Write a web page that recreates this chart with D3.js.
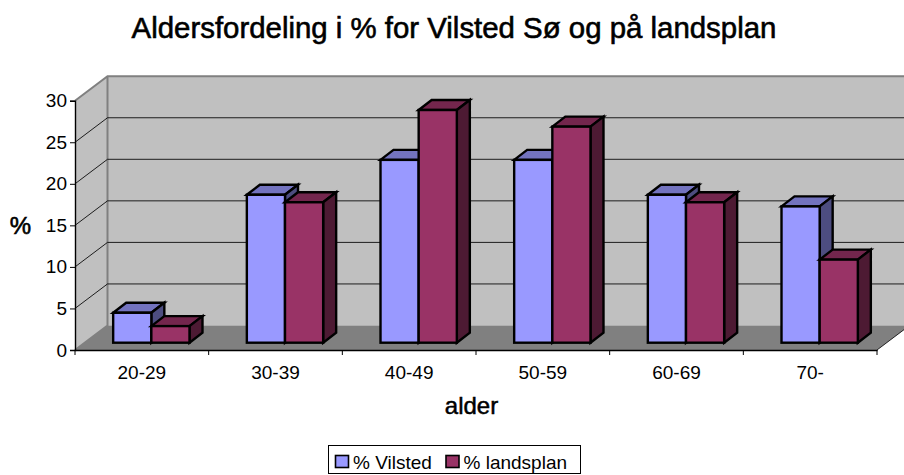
<!DOCTYPE html>
<html>
<head>
<meta charset="utf-8">
<script src="https://cdn.jsdelivr.net/npm/d3@7"></script>
<style>
html,body{margin:0;padding:0;background:#fff;overflow:hidden}
svg{display:block}
text{font-family:"Liberation Sans",Arial,sans-serif;fill:#000}
</style>
</head>
<body>
<div id="chart"></div>
<script>
const categories = ["20-29","30-39","40-49","50-59","60-69","70-"];
const vilsted = [3.6,17.8,22,22,17.8,16.4];
const landsplan = [2,16.9,28,26,16.9,10];
const yTicks = [0,5,10,15,20,25,30];
const seriesNames = ["% Vilsted","% landsplan"];
const faceColors = ["#9999ff","#993366"];
const topColors = ["#7373bf","#73264d"];
const sideColors = ["#4d4d80","#4d1a33"];

const width = 904, height = 475;
const svg = d3.select("#chart").append("svg").attr("width",width).attr("height",height);

// Front plane of the plot box
const x0 = 75, x1 = 877, y0 = 350, yTop = 100.7;
// Depth of the box and of the bars, and where the bars sit inside it
const boxDx = 32.5, boxDy = -24.5;
const barDx = 13, barDy = -10, inDx = 9.5, inDy = -7.3;

const x = d3.scaleBand().domain(categories).range([x0,x1]).paddingInner(0).paddingOuter(0);
const y = d3.scaleLinear().domain([0,30]).range([y0,yTop]);
const barW = x.bandwidth()*0.2855;

const poly = pts => pts.map(p=>p.join(",")).join(" ");

// Walls and floor
svg.append("polygon").attr("points",poly([[x0,y(0)],[x0,y(30)],[x0+boxDx,y(30)+boxDy],[x0+boxDx,y(0)+boxDy]])).attr("fill","#c0c0c0");
svg.append("rect").attr("x",x0+boxDx).attr("y",y(30)+boxDy).attr("width",x1-x0).attr("height",y(0)-y(30)).attr("fill","#c0c0c0");
svg.append("polygon").attr("points",poly([[x0,y(0)],[x1,y(0)],[x1+boxDx,y(0)+boxDy],[x0+boxDx,y(0)+boxDy]])).attr("fill","#808080");

// Wall outline
svg.append("path")
  .attr("d",`M${x0},${y(30)}L${x0+boxDx},${y(30)+boxDy}H${x1+boxDx}M${x0+boxDx},${y(30)+boxDy}V${y(0)+boxDy}L${x0},${y(0)}`)
  .attr("fill","none").attr("stroke","#808080").attr("stroke-width",2);

// Gridlines wrap from the side wall onto the back wall
svg.append("g").selectAll("path").data(yTicks.filter(t=>t>0&&t<30)).join("path")
  .attr("d",t=>`M${x0},${y(t)}L${x0+boxDx},${y(t)+boxDy}H${x1+boxDx}`)
  .attr("fill","none").attr("stroke","#000").attr("stroke-width",1).attr("stroke-opacity",.85);

// Floor edge on the right
svg.append("path").attr("d",`M${x1},${y(0)}L${x1+boxDx},${y(0)+boxDy}`).attr("stroke","#000").attr("stroke-opacity",.8).attr("fill","none");

// Bars: front face, top and side in three shades
const rows = categories.map((c,i)=>[vilsted[i],landsplan[i]]);
const gBars = svg.append("g").attr("stroke","#000").attr("stroke-width",2.4).attr("stroke-linejoin","miter");
categories.forEach((c,i)=>{
  rows[i].forEach((v,s)=>{
    const bx = x(c)+(x.bandwidth()-2*barW)/2+inDx+s*barW;
    const by = y(v)+inDy, bb = y(0)+inDy;
    const g = gBars.append("g");
    g.append("polygon").attr("points",poly([[bx,by],[bx+barDx,by+barDy],[bx+barW+barDx,by+barDy],[bx+barW,by]])).attr("fill",topColors[s]);
    g.append("polygon").attr("points",poly([[bx+barW,by],[bx+barW+barDx,by+barDy],[bx+barW+barDx,bb+barDy],[bx+barW,bb]])).attr("fill",sideColors[s]);
    g.append("rect").attr("x",bx).attr("y",by).attr("width",barW).attr("height",bb-by).attr("fill",faceColors[s]);
  });
});

// Axes
const yAxis = d3.axisLeft(y).tickValues(yTicks).tickSize(5).tickPadding(3);
const gy = svg.append("g").attr("transform",`translate(${x0},0)`).call(yAxis);
const xAxis = d3.axisBottom(x).tickSize(0).tickPadding(20);
const gx = svg.append("g").attr("transform",`translate(0,${y0})`).call(xAxis);
gx.selectAll(".tick line").remove();
gx.append("g").selectAll("line").data(d3.range(categories.length+1)).join("line")
  .attr("x1",i=>x0+i*x.step()).attr("x2",i=>x0+i*x.step()).attr("y1",0).attr("y2",5).attr("stroke","#000");
[gx,gy].forEach(a=>{
  a.selectAll("text").style("font-family",'"Liberation Sans",Arial,sans-serif').style("font-size","19px").attr("fill","#222");
  a.select(".domain").attr("stroke","#000").attr("stroke-width",1.4);
});
gx.selectAll(".tick text").attr("dy",null).attr("y",29);

// Titles, slightly heavier than the regular weight
const heavy = (sel,w)=>sel.attr("stroke","#000").attr("stroke-width",w).attr("text-anchor","middle");
heavy(svg.append("text").attr("x",454).attr("y",38).attr("font-size",29.4).text("Aldersfordeling i % for Vilsted Sø og på landsplan"),.6);
heavy(svg.append("text").attr("x",471.5).attr("y",414).attr("font-size",24).text("alder"),.5);
heavy(svg.append("text").attr("x",20.5).attr("y",234).attr("font-size",24).text("%"),.6);

// Legend
const lg = svg.append("g");
lg.append("rect").attr("x",328.5).attr("y",445.5).attr("width",252).attr("height",28).attr("fill","#fff").attr("stroke","#000");
const legendX = [335.5,446];
seriesNames.forEach((n,i)=>{
  lg.append("rect").attr("x",legendX[i]).attr("y",455.5).attr("width",13).attr("height",12).attr("fill",faceColors[i]).attr("stroke","#000").attr("stroke-width",1.6);
  lg.append("text").attr("x",legendX[i]+17.5).attr("y",469).attr("font-size",19).text(n);
});
</script>
</body>
</html>
